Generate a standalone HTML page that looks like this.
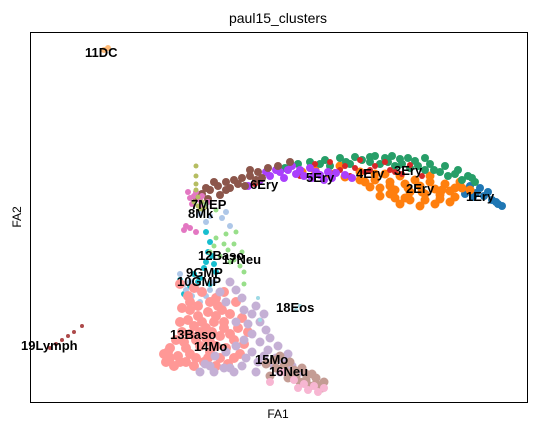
<!DOCTYPE html>
<html><head><meta charset="utf-8">
<style>
body{margin:0;background:#fff;}
svg{display:block;font-family:"Liberation Sans","DejaVu Sans",sans-serif;}
.lbl{font-weight:bold;font-size:13px;fill:#000;}
</style></head>
<body>
<svg id="chart" width="535" height="431" viewBox="0 0 535 431">
<text x="278" y="23" text-anchor="middle" font-size="14" fill="#000">paul15_clusters</text>
<rect x="30.5" y="32.5" width="497" height="370" fill="none" stroke="#000" stroke-width="1"/>
<g id="points"></g>
<g id="labels"></g>
<text x="278" y="418" text-anchor="middle" font-size="12" fill="#000">FA1</text>
<text x="0" y="0" transform="translate(21,217) rotate(-90)" text-anchor="middle" font-size="12" fill="#000">FA2</text>
</svg>
<script>
// Data in FA units: x domain [0,497], y domain [0,370]
const clusterNames = ["1Ery","2Ery","3Ery","4Ery","5Ery","6Ery","7MEP","8Mk","9GMP","10GMP","11DC","12Baso","13Baso","14Mo","15Mo","16Neu","17Neu","18Eos","19Lymph"];
const clusterColors = ["#1f77b4","#ff7f0e","#279e68","#d62728","#aa40fc","#8c564b","#e377c2","#b5bd61","#17becf","#aec7e8","#ffbb78","#98df8a","#ff9896","#c5b0d5","#c49c94","#f7b6d2","#98df8a","#9edae5","#ad494a"];
const c1Ery = [[438,212],[446,209],[454,206],[462,202],[468,198],[472,196],[450,214],[458,210],[443,205],[435,208],[440,216],[466,200]];
const c2Ery = [[272,230],[285,232],[300,228],[315,225],[330,222],[345,222],[360,220],[375,218],[390,216],[405,213],[420,211],[432,214],[350,214],[365,212],[380,210],[395,208],[410,207],[425,205],[440,212],[385,222],[400,220],[370,226],[355,228],[340,215],[415,218],[375,204],[360,208],[330,230],[310,236],[350,206],[365,204],[380,202],[395,202],[410,203],[420,200],[390,196],[370,198],[405,198],[430,220],[345,228],[335,220],[425,214],[400,226],[378,214],[392,210],[412,212],[360,216]];
const c3Ery = [[255,234],[268,238],[280,240],[295,242],[310,244],[325,245],[340,245],[355,244],[370,243],[385,241],[400,238],[415,236],[428,232],[438,226],[445,220],[350,238],[365,236],[380,234],[395,232],[410,230],[425,228],[300,236],[320,238],[340,240],[432,222],[418,226],[404,232],[388,236],[372,238],[358,240],[332,242],[316,240],[290,238],[442,224],[395,244],[378,244],[362,246],[345,246]];
const c4Ery = [[270,226],[285,238],[300,240],[315,236],[330,242],[345,236],[360,232],[372,228],[320,226],[335,230],[380,237],[392,226],[305,230],[355,240],[225,218],[340,232],[325,234],[365,230],[310,232]];
const c5Ery = [[230,222],[240,226],[250,230],[258,232],[266,228],[274,226],[282,224],[290,227],[298,230],[306,229],[315,227],[322,224],[262,236],[280,234],[218,216],[254,224],[270,232],[286,230],[302,224],[294,222],[246,232],[236,230]];
const c6Ery = [[172,208],[180,212],[188,216],[196,220],[204,222],[212,224],[220,226],[228,230],[238,234],[248,236],[200,214],[215,216],[190,207],[226,222],[178,203],[260,240],[184,220],[196,212],[208,218],[220,232],[232,224],[176,214],[166,205]];
const c7MEP = [[158,210],[164,206],[170,202],[178,200],[162,198],[156,176],[160,174],[166,170],[170,196],[166,210],[172,206],[160,204],[154,172]];
const c8Mk = [[166,236],[166,226],[166,218],[166,212],[168,205],[172,200],[168,196],[174,194],[164,200],[170,192]];
const c9GMP = [[176,170],[180,160],[182,146],[184,138],[186,130],[176,140],[170,124],[164,128],[150,122],[160,116],[154,108],[180,118],[178,150],[174,134],[168,120]];
const c10GMP = [[170,188],[180,186],[192,184],[200,176],[160,120],[168,112],[156,112],[176,106],[170,100],[188,108],[150,128],[184,120],[162,106],[154,118],[180,112],[196,190],[176,180]];
const c11DC = [[74,352],[78,354]];
const c12Baso = [[180,150],[190,146],[198,152],[204,142],[210,136],[196,168],[186,164],[214,130],[184,156],[194,158]];
const c13Baso = [[150,118],[158,106],[168,96],[178,90],[186,86],[194,80],[160,92],[172,80],[182,70],[190,66],[150,80],[160,68],[170,56],[180,50],[190,44],[140,54],[148,46],[140,44],[160,48],[174,40],[196,54],[204,62],[208,74],[200,88],[176,64],[164,76],[154,60],[138,50],[186,56],[198,38],[210,48],[164,36],[186,36],[206,100],[146,62],[156,54],[166,62],[176,74],[184,80],[192,92],[168,86],[160,100],[152,94],[158,82],[170,70],[180,100],[188,96],[150,40],[144,36],[156,40],[166,44],[178,44],[194,74],[200,68],[214,58],[218,70],[212,84],[172,110],[164,114],[180,60],[152,70],[136,40],[134,48],[194,110],[186,104],[204,44]];
const c14Mo = [[175,38],[185,46],[196,50],[206,56],[214,62],[222,68],[230,60],[238,52],[246,44],[254,40],[262,36],[270,30],[216,44],[228,40],[200,34],[240,64],[206,80],[214,92],[222,88],[196,100],[190,110],[230,80],[250,30],[204,30],[184,30],[194,34],[212,36],[222,50],[234,46],[244,36],[226,30],[218,78],[236,72],[248,56],[258,48],[226,96],[234,88],[212,104],[200,120],[206,112],[170,30],[180,36]];
const c15Mo = [[236,38],[246,34],[256,30],[266,26],[276,22],[286,18],[292,14],[250,46],[260,40],[272,34],[282,28],[240,26],[244,42],[254,36],[264,32],[276,28],[286,24],[294,20],[258,24],[270,20],[280,16]];
const c16Neu = [[264,22],[274,18],[284,16],[294,14],[252,30],[240,20],[278,12],[288,10],[268,14]];
const c17Neu = [[204,158],[212,150],[200,140],[214,118],[176,198],[186,192],[206,170]];
const c18Eos = [[228,104],[266,92],[230,82],[270,96]];
const c19Lymph = [[20,54],[26,58],[32,62],[38,66],[44,70],[52,76]];
const clusterPoints = [c1Ery,c2Ery,c3Ery,c4Ery,c5Ery,c6Ery,c7MEP,c8Mk,c9GMP,c10GMP,c11DC,c12Baso,c13Baso,c14Mo,c15Mo,c16Neu,c17Neu,c18Eos,c19Lymph];
const labelPos = [[436,206],[376,214],[364,232],[326,229],[276,225],[220,218],[161,198],[158,189],[156,130],[147,121],[55,350],[168,147],[140,68],[164,56],[225,43],[239,31],[192,143],[246,95],[-9,57]];

const xS = v => 30 + v;
const yS = v => 402 - v;
const blobR = [4,4.5,4,3,4,4,3,2.5,3,3,3,2.5,5,4.5,4.5,4,2.5,2,2];
const NS = "http://www.w3.org/2000/svg";
const gp = document.getElementById('points');
clusterPoints.forEach((pts, ci) => {
  pts.forEach((p) => {
    const c = document.createElementNS(NS, 'circle');
    
    
    c.setAttribute('cx', xS(p[0]));
    c.setAttribute('cy', yS(p[1]));
    c.setAttribute('r', blobR[ci]);
    c.setAttribute('fill', clusterColors[ci]);
    gp.appendChild(c);
  });
});
const gl = document.getElementById('labels');
clusterNames.forEach((n, i) => {
  const t = document.createElementNS(NS, 'text');
  
  
  t.setAttribute('class', 'lbl');
  t.setAttribute('x', xS(labelPos[i][0]));
  t.setAttribute('y', yS(labelPos[i][1]) + 5);
  t.textContent = n;
  gl.appendChild(t);
});
</script>
</body></html>
